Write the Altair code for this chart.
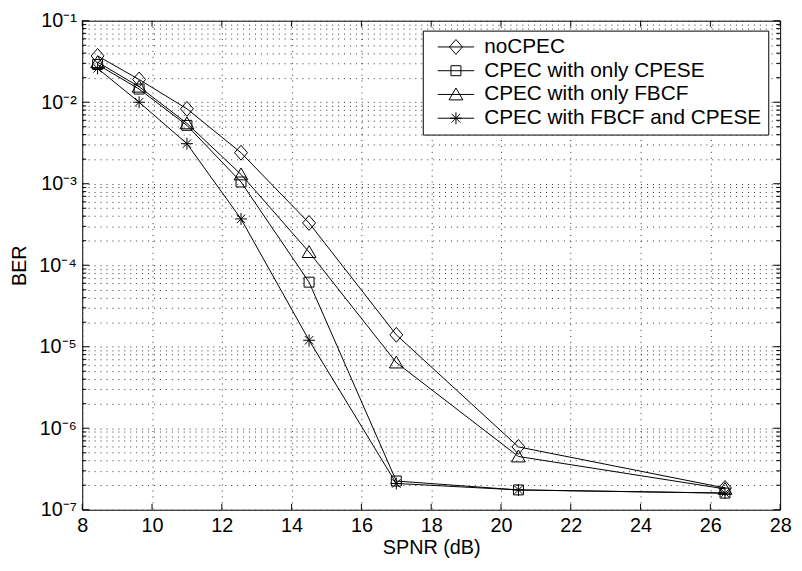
import altair as alt
import pandas as pd

# ---------------- data ----------------
snr = [8.44, 9.63, 11.0, 12.55, 14.5, 17.0, 20.5, 26.42]
series_names = ["noCPEC", "CPEC with only CPESE", "CPEC with only FBCF", "CPEC with FBCF and CPESE"]
ber_nocpec = [0.037, 0.019, 0.0083, 0.0024, 3.3e-4, 1.4e-5, 5.9e-7, 1.85e-7]
ber_cpese = [0.029, 0.0145, 0.0052, 0.00105, 6.2e-5, 2.25e-7, 1.75e-7, 1.6e-7]
ber_fbcf = [0.031, 0.0155, 0.0055, 0.0013, 1.45e-4, 6.4e-6, 4.5e-7, 1.8e-7]
ber_both = [0.026, 0.0100, 0.0031, 3.7e-4, 1.2e-5, 2.1e-7, 1.75e-7, 1.6e-7]

x_ticks = [8, 10, 12, 14, 16, 18, 20, 22, 24, 26, 28]
y_exponents = [-7, -6, -5, -4, -3, -2, -1]
y_labels = ["10⁻⁷", "10⁻⁶", "10⁻⁵", "10⁻⁴", "10⁻³", "10⁻²", "10⁻¹"]
minor_mult = [2, 3, 4, 5, 6, 7, 8, 9]

y_major = [10.0 ** e for e in y_exponents]
y_minor = [m * 10.0 ** e for e in y_exponents[:-1] for m in minor_mult]

# marker paths (unit square -1..1)
marker_paths = [
    "M0,-1L0.87,0L0,1L-0.87,0Z",
    "M-0.67,-0.67L0.67,-0.67L0.67,0.67L-0.67,0.67Z",
    "M0,-0.87L0.93,0.73L-0.93,0.73Z",
    "M0,-0.8L0,0.8M-0.8,0L0.8,0M-0.57,-0.57L0.57,0.57M-0.57,0.57L0.57,-0.57",
]
legend_paths = ["M-2.45,0L2.45,0" + p for p in marker_paths]

rows = []
for name, vals in zip(series_names, [ber_nocpec, ber_cpese, ber_fbcf, ber_both]):
    for s, b in zip(snr, vals):
        rows.append({"snr": s, "ber": b, "series": name, "series_leg": name})
df = pd.DataFrame(rows)

df_ymajor = pd.DataFrame({"ber": y_major})
df_yminor = pd.DataFrame({"ber": y_minor})
df_x = pd.DataFrame({"snr": x_ticks})

FONT = "Liberation Sans"
W, H = 705, 494

label_expr = " : ".join(
    f"abs(log(datum.value)/LN10 - ({e})) < 1e-6 ? '{l}'" for e, l in zip(y_exponents, y_labels)
) + " : ''"

xscale = alt.Scale(domain=[8, 28], nice=False, zero=False)
yscale = alt.Scale(type="log", domain=[1e-7, 1e-1], nice=False)

xaxis = alt.Axis(
    values=x_ticks, grid=True, gridDash=[1, 5], gridColor="#333", tickSize=0, domain=False,
    labelFont=FONT, labelFontSize=20, labelColor="black", labelPadding=6, labelFlush=False,
    labelOverlap=False, title="SPNR (dB)", titleFont=FONT, titleFontSize=20,
    titleFontWeight="normal", titleColor="black", titleX=W / 2, titleY=38,
    titleBaseline="middle",
)
yaxis = alt.Axis(
    values=y_major + y_minor, grid=True, gridDash=[1, 5], gridColor="#333", tickSize=0,
    domain=False, labelExpr=label_expr, labelFont=FONT, labelFontSize=20, labelColor="black",
    labelPadding=6, labelFlush=False, labelOverlap=False, labelBaseline="middle",
    title="BER", titleFont=FONT, titleFontSize=20, titleFontWeight="normal",
    titleColor="black", titleX=-63, titleY=247, titleAngle=-90, titleBaseline="middle",
    titleAlign="center",
)

X = alt.X("snr:Q", scale=xscale, axis=xaxis)
Y = alt.Y("ber:Q", scale=yscale, axis=yaxis)

lines = alt.Chart(df).mark_line(color="black", strokeWidth=1).encode(
    x=X, y=Y, detail="series:N"
)

points = alt.Chart(df).mark_point(
    filled=False, size=225, color="black", strokeWidth=1, opacity=1
).encode(
    x=X, y=Y,
    shape=alt.Shape("series:N", scale=alt.Scale(domain=series_names, range=marker_paths), legend=None),
)

legend_layer = alt.Chart(df).transform_filter("false").mark_point(
    filled=False, size=225, color="black", strokeWidth=1, opacity=1
).encode(
    x=X, y=Y,
    shape=alt.Shape(
        "series_leg:N",
        scale=alt.Scale(domain=series_names, range=legend_paths),
        legend=alt.Legend(
            title=None, orient="none", legendX=344, legendY=10,
            fillColor="white", strokeColor="black", padding=6,
            symbolSize=225, symbolStrokeColor="black", symbolFillColor="transparent",
            symbolStrokeWidth=1, symbolOffset=17, labelOffset=18,
            labelFont=FONT, labelFontSize=21, labelColor="black", labelLimit=0,
            rowPadding=2, cornerRadius=0,
        ),
    ),
)

def yticks(data, x0, x1):
    return alt.Chart(data).mark_rule(color="black", strokeWidth=1).encode(
        y=Y, x=alt.value(x0), x2=alt.value(x1)
    )

def xticks(y0, y1):
    return alt.Chart(df_x).mark_rule(color="black", strokeWidth=1).encode(
        x=X, y=alt.value(y0), y2=alt.value(y1)
    )

tick_layers = [
    yticks(df_ymajor, 0, 7), yticks(df_ymajor, W - 7, W),
    yticks(df_yminor, 0, 4), yticks(df_yminor, W - 4, W),
    xticks(H, H - 6), xticks(0, 6),
]

chart = alt.layer(lines, points, *tick_layers, legend_layer).resolve_scale(
    shape="independent"
).resolve_legend(shape="independent").properties(
    width=W, height=H,
    autosize=alt.AutoSizeParams(type="none"),
    padding={"left": 75, "top": 10, "right": 14, "bottom": 55},
    background="white",
).configure_view(stroke="black", strokeWidth=1)

chart.save("out.html", embed_options={"renderer": "svg", "actions": False})
